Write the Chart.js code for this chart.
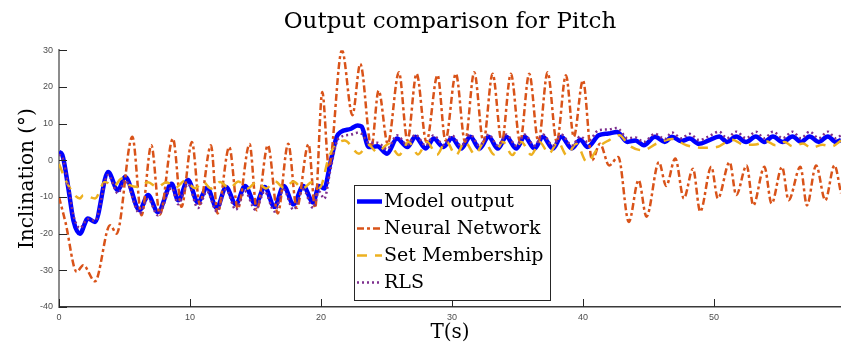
<!DOCTYPE html>
<html lang="en">
<head>
<meta charset="UTF-8">
<title>Output comparison for Pitch</title>
<script src="https://cdn.jsdelivr.net/npm/chart.js"></script>
<style>
    html, body { margin: 0; padding: 0; background: #fff; }
    #grafico { display: block; }
</style>
</head>
<body>
<canvas id="grafico" width="841" height="347"></canvas>
<script>
    // tempo (s) e inclinação (graus)

    // Model output
    const tempoModelo = [0, 0.25, 0.7, 1.1, 1.6, 2.2, 2.75, 3.75, 4.5, 5.05,
        6.15, 6.8, 7.55, 8.6, 9.1, 9.85, 10.6, 11.3, 12.05, 12.75,
        13.5, 14.2, 15.0, 15.7, 16.45, 17.15, 17.9, 18.65, 19.4, 19.85,
        20.25, 20.7, 21.2, 21.5, 22.3, 22.8, 23.1, 23.65, 24.3, 25.05,
        25.8, 26.6, 27.2, 28.0, 28.6, 29.35, 30.0, 30.7, 31.4, 32.1,
        32.8, 33.5, 34.15, 34.9, 35.55, 36.3, 36.95, 37.7, 38.35, 39.15,
        39.8, 40.35, 41.2, 41.95, 42.6, 43.4, 44.0, 44.65, 45.5, 46.25,
        46.8, 47.5, 48.15, 48.85, 49.6, 50.4, 51.0, 51.7, 52.45, 53.2,
        53.85, 54.5, 55.25, 56.0, 56.65, 57.3, 58.0, 58.7, 59.3, 59.7];
    const valoresModelo = [2.3, 1.5, -7.3, -16.4, -20, -15.9, -16.8, -3.2, -8.2, -4.5,
        -13.6, -9.5, -14.1, -6.4, -10.9, -5.4, -11.5, -7.5, -13, -7.3,
        -12, -7, -12, -7.3, -12.7, -7, -12, -7, -11.5, -7,
        -7.7, -1, 6.4, 7.7, 8.6, 9.5, 9.2, 3.6, 3.8, 1.8,
        5.9, 3.6, 6.4, 3.2, 5.9, 3.6, 6.0, 3.2, 6.4, 3.2,
        6.4, 3.2, 6.4, 3.2, 6.4, 3.2, 6.4, 3.2, 6.4, 3.2,
        5.6, 3.6, 6.8, 7.3, 7.7, 5, 5.4, 4.1, 6.4, 5.0,
        6.4, 5.2, 5.9, 4.5, 5.4, 6.5, 5.0, 6.5, 5.0, 6.5,
        5.0, 6.5, 5.0, 6.5, 5.0, 6.5, 5.0, 6.5, 5.0, 5.5];

    // Neural Network
    const tempoRede = [0, 0.5, 1.35, 1.85, 2.75, 3.9, 4.4, 5.6, 6.3, 7.05,
        7.7, 8.7, 9.35, 10.15, 10.75, 11.6, 12.1, 13.0, 13.65, 14.55,
        15.1, 15.95, 16.7, 17.5, 18.15, 19.05, 19.55, 20.1, 20.6, 21.6,
        22.4, 23.0, 23.85, 24.4, 25.1, 25.95, 26.6, 27.3, 28.05, 28.9,
        29.5, 30.3, 31.0, 31.7, 32.4, 33.1, 33.8, 34.5, 35.2, 35.9,
        36.6, 37.3, 38.0, 38.7, 39.3, 40.0, 40.7, 41.3, 42.0, 42.7,
        43.5, 44.25, 44.85, 45.8, 46.35, 47.05, 47.7, 48.4, 48.95, 49.8,
        50.3, 51.2, 51.7, 52.5, 53.0, 53.85, 54.4, 55.2, 55.7, 56.6,
        57.1, 57.8, 58.5, 59.2, 59.7];
    const valoresRede = [-10, -17, -30.4, -28.6, -33, -17.7, -20, 6.4, -15, 4.1,
        -14.8, 5.9, -12.7, 5, -12, 4.1, -14.5, 3.6, -13.2, 4.4,
        -13.6, 4.1, -14.5, 4.5, -13, 4.4, -13, 18.6, -1.8, 30,
        12.3, 26.3, 3.6, 19, 4.5, 24, 5.4, 23.6, 5, 23.2,
        5.4, 23.6, 5, 24, 5, 23.6, 5, 23.6, 5, 23.6,
        5, 24, 5, 23.2, 6.4, 21.8, 0, 4.5, -1.4, 0.9,
        -16.8, -5.4, -15.4, -0.5, -7, 0.5, -10.4, -2.3, -14, -1.8,
        -10.4, -0.5, -9.5, -1.4, -12.3, -1.8, -11.8, -1.8, -10.9, -1.8,
        -12.3, -1.4, -10.9, -1.4, -9];

    // Set Membership
    const tempoSet = [0, 0.7, 1.6, 1.85, 2.75, 3.5, 4.2, 4.8, 5.4, 6.0,
        6.8, 7.5, 8.2, 8.9, 9.6, 10.4, 11.0, 11.6, 12.3, 13.0,
        13.7, 14.4, 15.1, 15.8, 16.5, 17.2, 17.9, 18.6, 19.3, 19.9,
        20.6, 21.1, 21.8, 22.9, 23.6, 24.3, 25.2, 25.95, 26.7, 27.4,
        28.1, 28.85, 29.55, 30.3, 31.0, 31.75, 32.5, 33.2, 33.9, 34.6,
        35.3, 36.05, 36.7, 37.4, 38.1, 38.75, 39.5, 40.3, 41.2, 42.0,
        42.8, 43.5, 44.6, 45.6, 46.8, 47.9, 49.2, 50.2, 51.4, 52.3,
        53.2, 54.0, 54.7, 55.4, 56.0, 56.8, 57.4, 58.3, 59.0, 59.7];
    const valoresSet = [-1, -6.8, -10.4, -9.5, -10.4, -5.9, -7.0, -5.0, -6.8, -7.3,
        -6.0, -7.3, -6.0, -7.5, -5.6, -7.6, -5.9, -7.7, -5.9, -7.7,
        -5.8, -7.7, -5.9, -7.7, -5.8, -7.6, -5.8, -7.7, -6.0, -7.5,
        0.9, 4.0, 5.4, 1.8, 4.2, 2.2, 4.5, 1.4, 5.0, 1.6,
        5.0, 1.5, 5.2, 1.4, 5.0, 1.6, 5.0, 1.6, 5.0, 1.4,
        5.0, 1.5, 5.0, 1.8, 5.0, 1.4, 4.5, -0.5, 3.6, 5.5,
        6.8, 4.1, 2.7, 4.5, 5.8, 4.1, 3.4, 3.6, 5.6, 4.2,
        4.3, 5.2, 4.1, 5.0, 3.8, 4.6, 3.4, 4.2, 3.8, 5.4];

    // RLS
    const tempoRls = [0, 0.25, 0.7, 1.1, 1.6, 2.2, 2.75, 3.75, 4.5, 5.05,
        6.15, 6.8, 7.55, 8.6, 9.1, 9.85, 10.6, 11.3, 12.05, 12.75,
        13.5, 14.2, 15.0, 15.7, 16.45, 17.15, 17.9, 18.65, 19.4, 19.85,
        20.25, 20.7, 21.2, 21.5, 22.3, 22.8, 23.1, 23.65, 24.3, 25.05,
        25.8, 26.6, 27.2, 28.0, 28.6, 29.35, 30.0, 30.7, 31.4, 32.1,
        32.8, 33.5, 34.15, 34.9, 35.55, 36.3, 36.95, 37.7, 38.35, 39.15,
        39.8, 40.35, 41.2, 41.95, 42.6, 43.4, 44.0, 44.65, 45.5, 46.25,
        46.8, 47.5, 48.15, 48.85, 49.6, 50.4, 51.0, 51.7, 52.45, 53.2,
        53.85, 54.5, 55.25, 56.0, 56.65, 57.3, 58.0, 58.7, 59.3, 59.7];
    const valoresRls = [1.5, 0.8, -6.8, -15, -18.5, -16, -16.5, -4, -9, -5.5,
        -14.5, -10.5, -15, -7.5, -12, -6.5, -13, -8.5, -14, -8,
        -13.5, -8.5, -13.5, -8.5, -14, -8, -13.5, -8, -13, -8.5,
        -10.5, -3, 5, 6.3, 7.0, 7.5, 7.2, 4.8, 4.8, 3.0,
        6.8, 4.2, 7.0, 4.0, 6.8, 4.2, 6.8, 4.0, 7.0, 4.0,
        7.0, 4.0, 7.0, 4.0, 7.0, 4.0, 7.0, 4.0, 7.0, 4.0,
        6.5, 5.0, 8.2, 8.4, 8.8, 6.0, 6.2, 5.0, 7.2, 5.8,
        7.6, 6.0, 7.2, 5.5, 6.5, 7.8, 6.0, 7.8, 6.0, 7.8,
        6.0, 7.8, 6.0, 7.8, 6.0, 7.8, 6.0, 7.8, 6.0, 6.8];

    const ticksX = [0, 10, 20, 30, 40, 50];
    const ticksY = [-40, -30, -20, -10, 0, 10, 20, 30];

    function pares(tempos, valores) {
        return tempos.map(function (t, i) { return { x: t, y: valores[i] }; });
    }

    // marcas dos eixos para dentro, estilo matlab
    const marcasPlugin = {
        id: 'marcasInternas',
        afterDatasetsDraw(chart) {
            const ctx = chart.ctx;
            const area = chart.chartArea;
            const sx = chart.scales.x;
            const sy = chart.scales.y;
            ctx.save();
            ctx.strokeStyle = '#262626';
            ctx.lineWidth = 1;
            ctx.beginPath();
            sy.ticks.forEach(function (t) {
                const py = Math.round(sy.getPixelForValue(t.value)) + 0.5;
                ctx.moveTo(area.left, py);
                ctx.lineTo(area.left + 8, py);
            });
            sx.ticks.forEach(function (t) {
                const px = Math.round(sx.getPixelForValue(t.value)) + 0.5;
                ctx.moveTo(px, area.bottom);
                ctx.lineTo(px, area.bottom - 8);
            });
            ctx.stroke();
            ctx.restore();
        }
    };

    // legenda dentro da área do gráfico
    const legendaPlugin = {
        id: 'legendaInterna',
        afterDatasetsDraw(chart) {
            const ctx = chart.ctx;
            const caixa = { x: 354.5, y: 185.5, w: 196, h: 115 };
            const linhas = [201.5, 228.5, 255.5, 282.5];
            ctx.save();
            ctx.fillStyle = '#ffffff';
            ctx.fillRect(caixa.x, caixa.y, caixa.w, caixa.h);
            ctx.strokeStyle = '#262626';
            ctx.lineWidth = 1;
            ctx.strokeRect(caixa.x, caixa.y, caixa.w, caixa.h);
            chart.data.datasets.forEach(function (ds, i) {
                const y = linhas[i];
                ctx.strokeStyle = ds.borderColor;
                ctx.lineWidth = ds.borderWidth;
                ctx.setLineDash(ds.borderDash || []);
                ctx.beginPath();
                ctx.moveTo(357, y);
                ctx.lineTo(382, y);
                ctx.stroke();
                ctx.setLineDash([]);
                ctx.fillStyle = '#000000';
                ctx.font = '19px "DejaVu Serif"';
                ctx.textBaseline = 'middle';
                ctx.textAlign = 'left';
                ctx.fillText(ds.label, 384, y + 1);
            });
            ctx.restore();
        }
    };

    const dados = {
        datasets: [{
            label: 'Model output',
            data: pares(tempoModelo, valoresModelo),
            borderColor: '#0000ff',
            borderWidth: 4.5,
            order: 4
        }, {
            label: 'Neural Network',
            data: pares(tempoRede, valoresRede),
            borderColor: '#d95319',
            borderWidth: 2.5,
            borderDash: [7, 3, 3, 3],
            order: 3
        }, {
            label: 'Set Membership',
            data: pares(tempoSet, valoresSet),
            borderColor: '#edb120',
            borderWidth: 2.5,
            borderDash: [10, 8],
            order: 2
        }, {
            label: 'RLS',
            data: pares(tempoRls, valoresRls),
            borderColor: '#7e2f8e',
            borderWidth: 2.5,
            borderDash: [2, 3],
            order: 1
        }]
    };

    const fonteTicks = { family: '"Liberation Sans"', size: 9 };

    const config = {
        type: 'line',
        data: dados,
        options: {
            responsive: false,
            animation: false,
            devicePixelRatio: 1,
            layout: { padding: 0 },
            elements: {
                point: { radius: 0 },
                line: { cubicInterpolationMode: 'monotone', fill: false }
            },
            plugins: {
                legend: { display: false },
                tooltip: { enabled: false },
                title: {
                    display: true,
                    fullSize: false,
                    text: 'Output comparison for Pitch',
                    color: '#000000',
                    font: { family: '"DejaVu Serif"', size: 23, weight: 'normal' },
                    padding: { top: 8, bottom: 14.6 }
                }
            },
            scales: {
                x: {
                    type: 'linear',
                    min: 0,
                    max: 59.7,
                    afterBuildTicks: function (s) { s.ticks = ticksX.map(function (v) { return { value: v }; }); },
                    afterFit: function (s) { s.height = 40; },
                    grid: { display: false, drawTicks: false },
                    border: { display: true, color: '#3a3a3a', width: 1.5 },
                    ticks: { color: '#4d4d4d', font: fonteTicks, padding: 5, maxRotation: 0 },
                    title: {
                        display: true,
                        text: 'T(s)',
                        color: '#000000',
                        font: { family: '"DejaVu Serif"', size: 20 },
                        padding: { top: 0, bottom: 2 }
                    }
                },
                y: {
                    min: -40,
                    max: 30,
                    afterBuildTicks: function (s) { s.ticks = ticksY.map(function (v) { return { value: v }; }); },
                    afterFit: function (s) { s.width = 59; },
                    grid: { display: false, drawTicks: false },
                    border: { display: true, color: '#8c8c8c', width: 2 },
                    ticks: { color: '#4d4d4d', font: fonteTicks, padding: 6 },
                    title: {
                        display: true,
                        text: 'Inclination (°)',
                        color: '#000000',
                        font: { family: '"DejaVu Serif"', size: 20 },
                        padding: { top: 16, bottom: 0 }
                    }
                }
            }
        },
        plugins: [marcasPlugin, legendaPlugin]
    };

    const grafico = new Chart(document.getElementById('grafico'), config);
</script>
</body>
</html>
